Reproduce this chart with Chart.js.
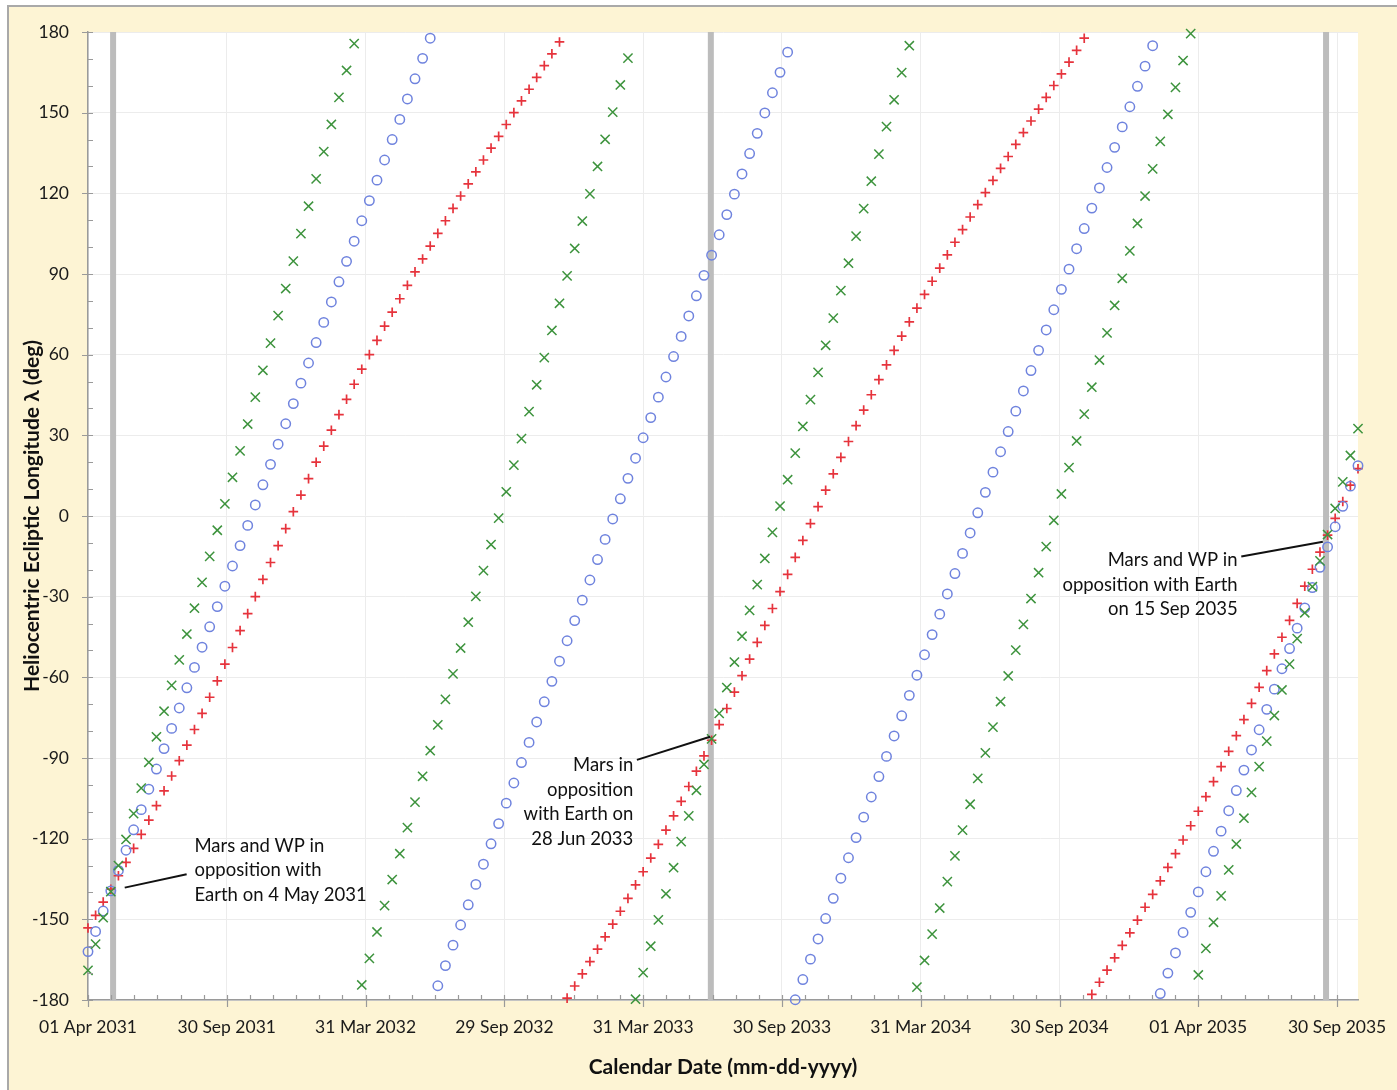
<!DOCTYPE html>
<html>
<head>
<meta charset="utf-8">
<script src="https://cdn.jsdelivr.net/npm/chart.js@4.4.1/dist/chart.umd.min.js"></script>
<style>
  html, body { margin: 0; padding: 0; background: #ffffff; }
</style>
</head>
<body>
<canvas id="chart" width="1397" height="1090"></canvas>
<script>
/* ---- data: heliocentric longitude (deg) every 10 days from 01 Apr 2031 ---- */
const stepDays = 10;

const mars = [
  -153.2, -148.5, -143.6, -138.8, -133.8, -128.8, -123.6, -118.4, -113.1, -107.7,
  -102.2, -96.7, -91.0, -85.2, -79.4, -73.4, -67.4, -61.3, -55.1, -48.9,
  -42.6, -36.3, -30.0, -23.6, -17.3, -11.0, -4.7, 1.6, 7.8, 13.9,
  20.0, 26.0, 31.9, 37.7, 43.4, 49.0, 54.6, 60.0, 65.3, 70.6,
  75.8, 80.8, 85.8, 90.8, 95.6, 100.4, 105.1, 109.8, 114.4, 119.0,
  123.5, 128.0, 132.4, 136.8, 141.2, 145.6, 150.0, 154.4, 158.7, 163.1,
  167.5, 171.9, 176.3, -179.3, -174.8, -170.3, -165.7, -161.1, -156.5, -151.8,
  -147.0, -142.2, -137.2, -132.3, -127.2, -122.1, -116.8, -111.5, -106.1, -100.6,
  -94.9, -89.2, -83.4, -77.6, -71.6, -65.5, -59.4, -53.2, -47.0, -40.7,
  -34.4, -28.1, -21.7, -15.4, -9.1, -2.8, 3.5, 9.6, 15.7, 21.8,
  27.7, 33.6, 39.4, 45.1, 50.7, 56.2, 61.6, 66.9, 72.2, 77.3,
  82.4, 87.3, 92.2, 97.1, 101.8, 106.5, 111.2, 115.8, 120.3, 124.8,
  129.3, 133.7, 138.2, 142.6, 146.9, 151.3, 155.7, 160.1, 164.4, 168.8,
  173.2, 177.7, -177.9, -173.4, -168.9, -164.3, -159.7, -155.0, -150.3, -145.5,
  -140.7, -135.7, -130.7, -125.6, -120.5, -115.2, -109.8, -104.4, -98.8, -93.2,
  -87.5, -81.7, -75.7, -69.7, -63.7, -57.5, -51.3, -45.1, -38.8, -32.5,
  -26.1, -19.8, -13.4, -7.1, -0.9, 5.4, 11.5, 17.6
];

const wp = [
  -162.0, -154.5, -146.9, -139.4, -131.8, -124.3, -116.7, -109.2, -101.6, -94.1,
  -86.5, -79.0, -71.4, -63.9, -56.3, -48.8, -41.2, -33.7, -26.1, -18.6,
  -11.0, -3.5, 4.1, 11.6, 19.2, 26.7, 34.3, 41.8, 49.4, 56.9,
  64.5, 72.0, 79.6, 87.1, 94.7, 102.2, 109.8, 117.3, 124.9, 132.4,
  140.0, 147.5, 155.1, 162.6, 170.2, 177.7, -174.7, -167.2, -159.6, -152.1,
  -144.6, -137.0, -129.5, -121.9, -114.4, -106.8, -99.3, -91.7, -84.2, -76.6,
  -69.1, -61.5, -54.0, -46.4, -38.9, -31.3, -23.8, -16.2, -8.7, -1.1,
  6.4, 14.0, 21.5, 29.1, 36.6, 44.2, 51.7, 59.3, 66.8, 74.4,
  81.9, 89.5, 97.0, 104.6, 112.1, 119.7, 127.2, 134.8, 142.3, 149.9,
  157.4, 165.0, 172.5, -179.9, -172.4, -164.8, -157.3, -149.7, -142.2, -134.7,
  -127.1, -119.6, -112.0, -104.5, -96.9, -89.4, -81.8, -74.3, -66.7, -59.2,
  -51.6, -44.1, -36.5, -29.0, -21.4, -13.9, -6.3, 1.2, 8.8, 16.3,
  23.9, 31.4, 39.0, 46.5, 54.1, 61.6, 69.2, 76.7, 84.3, 91.8,
  99.4, 106.9, 114.5, 122.0, 129.6, 137.1, 144.7, 152.2, 159.8, 167.3,
  174.9, -177.6, -170.0, -162.5, -154.9, -147.4, -139.8, -132.3, -124.7, -117.2,
  -109.6, -102.1, -94.5, -87.0, -79.5, -71.9, -64.4, -56.8, -49.3, -41.7,
  -34.2, -26.6, -19.1, -11.5, -4.0, 3.6, 11.1, 18.7
];

const earth = [
  -169.0, -159.2, -149.4, -139.7, -130.0, -120.3, -110.7, -101.2, -91.6, -82.1,
  -72.6, -63.0, -53.5, -43.9, -34.3, -24.7, -15.0, -5.3, 4.5, 14.4,
  24.2, 34.2, 44.2, 54.2, 64.3, 74.5, 84.6, 94.8, 105.0, 115.2,
  125.4, 135.5, 145.6, 155.7, 165.7, 175.7, -174.4, -164.5, -154.7, -144.9,
  -135.2, -125.6, -115.9, -106.4, -96.8, -87.3, -77.7, -68.2, -58.7, -49.1,
  -39.5, -29.9, -20.3, -10.6, -0.8, 9.0, 18.9, 28.8, 38.8, 48.8,
  58.9, 69.0, 79.1, 89.3, 99.5, 109.7, 119.8, 130.0, 140.1, 150.2,
  160.3, 170.3, -179.7, -169.8, -160.0, -150.2, -140.5, -130.8, -121.1, -111.5,
  -102.0, -92.4, -82.9, -73.4, -63.8, -54.3, -44.7, -35.1, -25.5, -15.8,
  -6.1, 3.7, 13.5, 23.4, 33.3, 43.3, 53.4, 63.5, 73.6, 83.8,
  94.0, 104.1, 114.3, 124.5, 134.6, 144.8, 154.8, 164.9, 174.9, -175.2,
  -165.3, -155.5, -145.8, -136.0, -126.4, -116.8, -107.2, -97.6, -88.1, -78.5,
  -69.0, -59.5, -49.9, -40.3, -30.7, -21.1, -11.4, -1.6, 8.2, 18.0,
  27.9, 37.9, 47.9, 58.0, 68.1, 78.3, 88.4, 98.6, 108.8, 119.0,
  129.1, 139.3, 149.4, 159.4, 169.4, 179.4, -170.7, -160.8, -151.1, -141.3,
  -131.6, -122.0, -112.4, -102.8, -93.2, -83.7, -74.2, -64.7, -55.1, -45.6,
  -36.0, -26.3, -16.7, -6.9, 2.8, 12.7, 22.5, 32.5
];

// x axis: days since 01 Apr 2031, major unit 182.5 days
const tickLabels = ['01 Apr 2031', '30 Sep 2031', '31 Mar 2032', '29 Sep 2032', '31 Mar 2033',
                    '30 Sep 2033', '31 Mar 2034', '30 Sep 2034', '01 Apr 2035', '30 Sep 2035'];
const majorUnit = 182.5;
const lastDay = 1670;

// opposition dates (days since 01 Apr 2031): 4 May 2031, 28 Jun 2033, 15 Sep 2035
const oppositionDays = [33, 819, 1628];

const notes = [
  { lines: ['Mars and WP in', 'opposition with', 'Earth on 4 May 2031'], day: 140, lon: -122.7, align: 'left',
    from: [129.7, -133.2], to: [48.3, -138.2] },
  { lines: ['Mars in', 'opposition', 'with Earth on', '28 Jun 2033'], day: 717, lon: -92.6, align: 'right',
    from: [721.8, -90.7], to: [818, -82.1] },
  { lines: ['Mars and WP in', 'opposition with Earth', 'on 15 Sep 2035'], day: 1511.7, lon: -16.4, align: 'right',
    from: [1516.5, -15.1], to: [1623.8, -9.6] }
];

const FONT = 'Lato, "Open Sans", sans-serif';
const sampleDays = mars.map((_, i) => i * stepDays);
const toPoints = arr => arr.map((v, i) => ({ x: sampleDays[i], y: v }));

/* ---- background, opposition bars, ticks and callouts ---- */
const decor = {
  id: 'decor',
  beforeDraw(chart) {
    const { ctx, chartArea: a } = chart;
    ctx.save();
    ctx.fillStyle = '#ffffff';
    ctx.fillRect(0, 0, chart.width, chart.height);
    ctx.fillStyle = '#fdf4d4';
    ctx.fillRect(8, 6, chart.width, chart.height);
    ctx.strokeStyle = '#a9a9a9';
    ctx.lineWidth = 2;
    ctx.strokeRect(8, 6, chart.width + 20, chart.height + 20);
    ctx.fillStyle = '#ffffff';
    ctx.fillRect(a.left, a.top, a.right - a.left, a.bottom - a.top);
    ctx.restore();
  },
  beforeDatasetsDraw(chart) {
    const { ctx, chartArea: a, scales: { x } } = chart;
    ctx.save();
    ctx.fillStyle = '#bcbcbc';
    oppositionDays.forEach(d => {
      const px = x.getPixelForValue(d);
      ctx.fillRect(px - 3, a.top, 6, a.bottom - a.top);
    });
    ctx.restore();
  },
  afterDatasetsDraw(chart) {
    const { ctx, chartArea: a, scales: { x, y } } = chart;
    ctx.save();
    ctx.strokeStyle = '#9a9a9a';
    ctx.lineWidth = 1.2;
    ctx.beginPath();
    // x axis: major ticks cross the axis, minor ticks point inward
    for (let d = 0; d <= lastDay; d += majorUnit / 6) {
      const px = Math.round(x.getPixelForValue(d)) + 0.5;
      const major = Math.abs(d / majorUnit - Math.round(d / majorUnit)) < 1e-6;
      ctx.moveTo(px, major ? a.bottom + 7 : a.bottom);
      ctx.lineTo(px, a.bottom - 5);
    }
    // y axis: major ticks every 30, minor every 10
    for (let v = -180; v <= 180; v += 10) {
      const py = Math.round(y.getPixelForValue(v)) + 0.5;
      const major = v % 30 === 0;
      ctx.moveTo(major ? a.left - 6 : a.left, py);
      ctx.lineTo(a.left + 5, py);
    }
    ctx.stroke();

    // callouts
    ctx.fillStyle = '#111111';
    ctx.strokeStyle = '#111111';
    ctx.lineWidth = 2;
    ctx.font = '18.5px ' + FONT;
    ctx.textBaseline = 'middle';
    notes.forEach(n => {
      const tx = x.getPixelForValue(n.day);
      const ty = y.getPixelForValue(n.lon);
      ctx.textAlign = n.align;
      n.lines.forEach((line, i) => ctx.fillText(line, tx, ty + i * 24.6));
      ctx.beginPath();
      ctx.moveTo(x.getPixelForValue(n.from[0]), y.getPixelForValue(n.from[1]));
      ctx.lineTo(x.getPixelForValue(n.to[0]), y.getPixelForValue(n.to[1]));
      ctx.stroke();
    });
    ctx.restore();
  }
};

new Chart(document.getElementById('chart'), {
  type: 'scatter',
  data: {
    datasets: [
      { label: 'Earth', data: toPoints(earth), pointStyle: 'crossRot', radius: 6.5,
        borderColor: '#3d933d', borderWidth: 1.5, clip: false },
      { label: 'WP', data: toPoints(wp), pointStyle: 'circle', radius: 4.7,
        borderColor: '#6f83de', backgroundColor: 'rgba(0,0,0,0)', borderWidth: 1.5, clip: false },
      { label: 'Mars', data: toPoints(mars), pointStyle: 'cross', radius: 4.8,
        borderColor: '#e6333c', borderWidth: 1.7, clip: false }
    ]
  },
  options: {
    responsive: false,
    animation: false,
    events: [],
    layout: { padding: { left: 0, top: 32, right: 39, bottom: 0 } },
    plugins: { legend: { display: false }, tooltip: { enabled: false } },
    scales: {
      x: {
        type: 'linear',
        min: 0,
        max: lastDay,
        afterBuildTicks: s => { s.ticks = tickLabels.map((_, i) => ({ value: i * majorUnit })); },
        afterFit: s => { s.height = 90; s.paddingLeft = 0; s.paddingRight = 0; },
        ticks: {
          callback: (v, i) => tickLabels[i],
          autoSkip: false, maxRotation: 0, padding: 17,
          color: '#1a1a1a', font: { family: FONT, size: 17.5 }
        },
        grid: { color: '#ececec', drawTicks: false },
        border: { color: '#9a9a9a', width: 1.5 },
        title: {
          display: true, text: 'Calendar Date (mm-dd-yyyy)', color: '#111111',
          font: { family: FONT, size: 21, weight: 'bold' }, padding: { bottom: 10 }
        }
      },
      y: {
        min: -180,
        max: 180,
        afterFit: s => { s.width = 88; s.paddingTop = 0; s.paddingBottom = 0; },
        ticks: { stepSize: 30, padding: 19, color: '#1a1a1a', font: { family: FONT, size: 17.5 } },
        grid: { color: '#ececec', drawTicks: false },
        border: { color: '#9a9a9a', width: 1.5 },
        title: {
          display: true, text: 'Heliocentric Ecliptic Longitude \u03BB (deg)', color: '#111111',
          font: { family: FONT, size: 21, weight: 'bold' }, padding: { top: 20 }
        }
      }
    }
  },
  plugins: [decor]
});
</script>
</body>
</html>
